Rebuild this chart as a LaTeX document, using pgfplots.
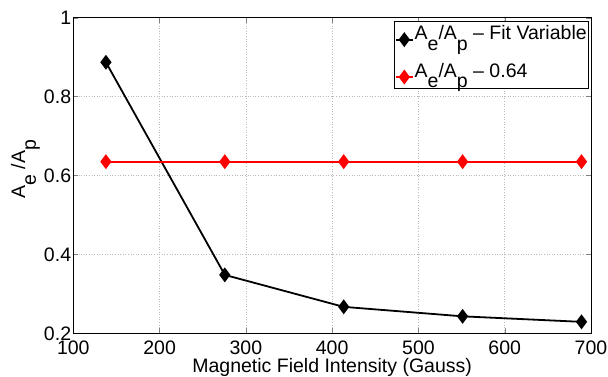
\documentclass[border=0pt]{standalone}
\usepackage{pgfplots}
\pgfplotsset{compat=1.18}
\usepackage{fontspec}
\setmainfont{Liberation Sans}
\newcommand{\lo}[1]{\raisebox{-0.55em}{#1}}
\begin{document}
\fontsize{19.5bp}{23bp}\selectfont
\begin{tikzpicture}
\begin{axis}[
  scale only axis,
  width=517.7bp, height=315.6bp,
  xmin=100, xmax=700, ymin=0.2, ymax=1,
  xtick={100,200,300,400,500,600,700},
  xticklabels={100,200,300,400,500,600,700},
  ytick={0.2,0.4,0.6,0.8,1},
  yticklabels={0.2,0.4,0.6,0.8,1},
  /pgf/number format/assume math mode=true,
  grid=major,
  major grid style={dash pattern=on 0.8bp off 1.8bp, gray!55, line width=0.6bp},
  axis line style={line width=0.6bp},
  major tick length=5bp,
  tick align=inside,
  xticklabel style={inner sep=1bp, yshift=-6.5bp},
  yticklabel style={inner sep=1bp, xshift=-1bp},
  xlabel={Magnetic Field Intensity (Gauss)},
  ylabel={A\lo{e} /A\lo{p}},
  xlabel style={at={(axis description cs:0.5,0)}, anchor=base, yshift=-39.7bp, inner sep=0bp},
  ylabel style={at={(axis description cs:-0.064,0.52)}, anchor=south, inner sep=0bp},
  legend style={at={(0.9961,0.9895)}, anchor=north east, draw=black, line width=0.6bp,
    inner xsep=1bp, inner ysep=0bp, row sep=7.8bp, column sep=0bp,
    nodes={inner sep=1bp, text height=17.3bp, text depth=10.3bp, anchor=base west}},
  legend cell align=left,
  legend image code/.code={\draw[#1, mark repeat=2, mark phase=2] plot coordinates {(0bp,0bp) (8.5bp,0bp) (17bp,0bp)};},
]
\addplot[color=black, line width=1.8bp, mark=diamond*, mark size=6bp, mark options={solid, fill=black}]
  coordinates {(137.8,0.887) (275.6,0.348) (413.4,0.267) (551.2,0.243) (689,0.229)};
\addlegendentry{A\lo{e}/A\lo{p} -- Fit Variable}
\addplot[color=red, line width=1.8bp, mark=diamond*, mark size=6bp, mark options={solid, fill=red}]
  coordinates {(137.8,0.635) (275.6,0.635) (413.4,0.635) (551.2,0.635) (689,0.635)};
\addlegendentry{A\lo{e}/A\lo{p} -- 0.64}
\end{axis}
\pgfresetboundingbox
\path ([shift={(-73.3bp,-43.7bp)}]current axis.south west) rectangle ([shift={(17bp,17.7bp)}]current axis.north east);
\end{tikzpicture}
\end{document}
